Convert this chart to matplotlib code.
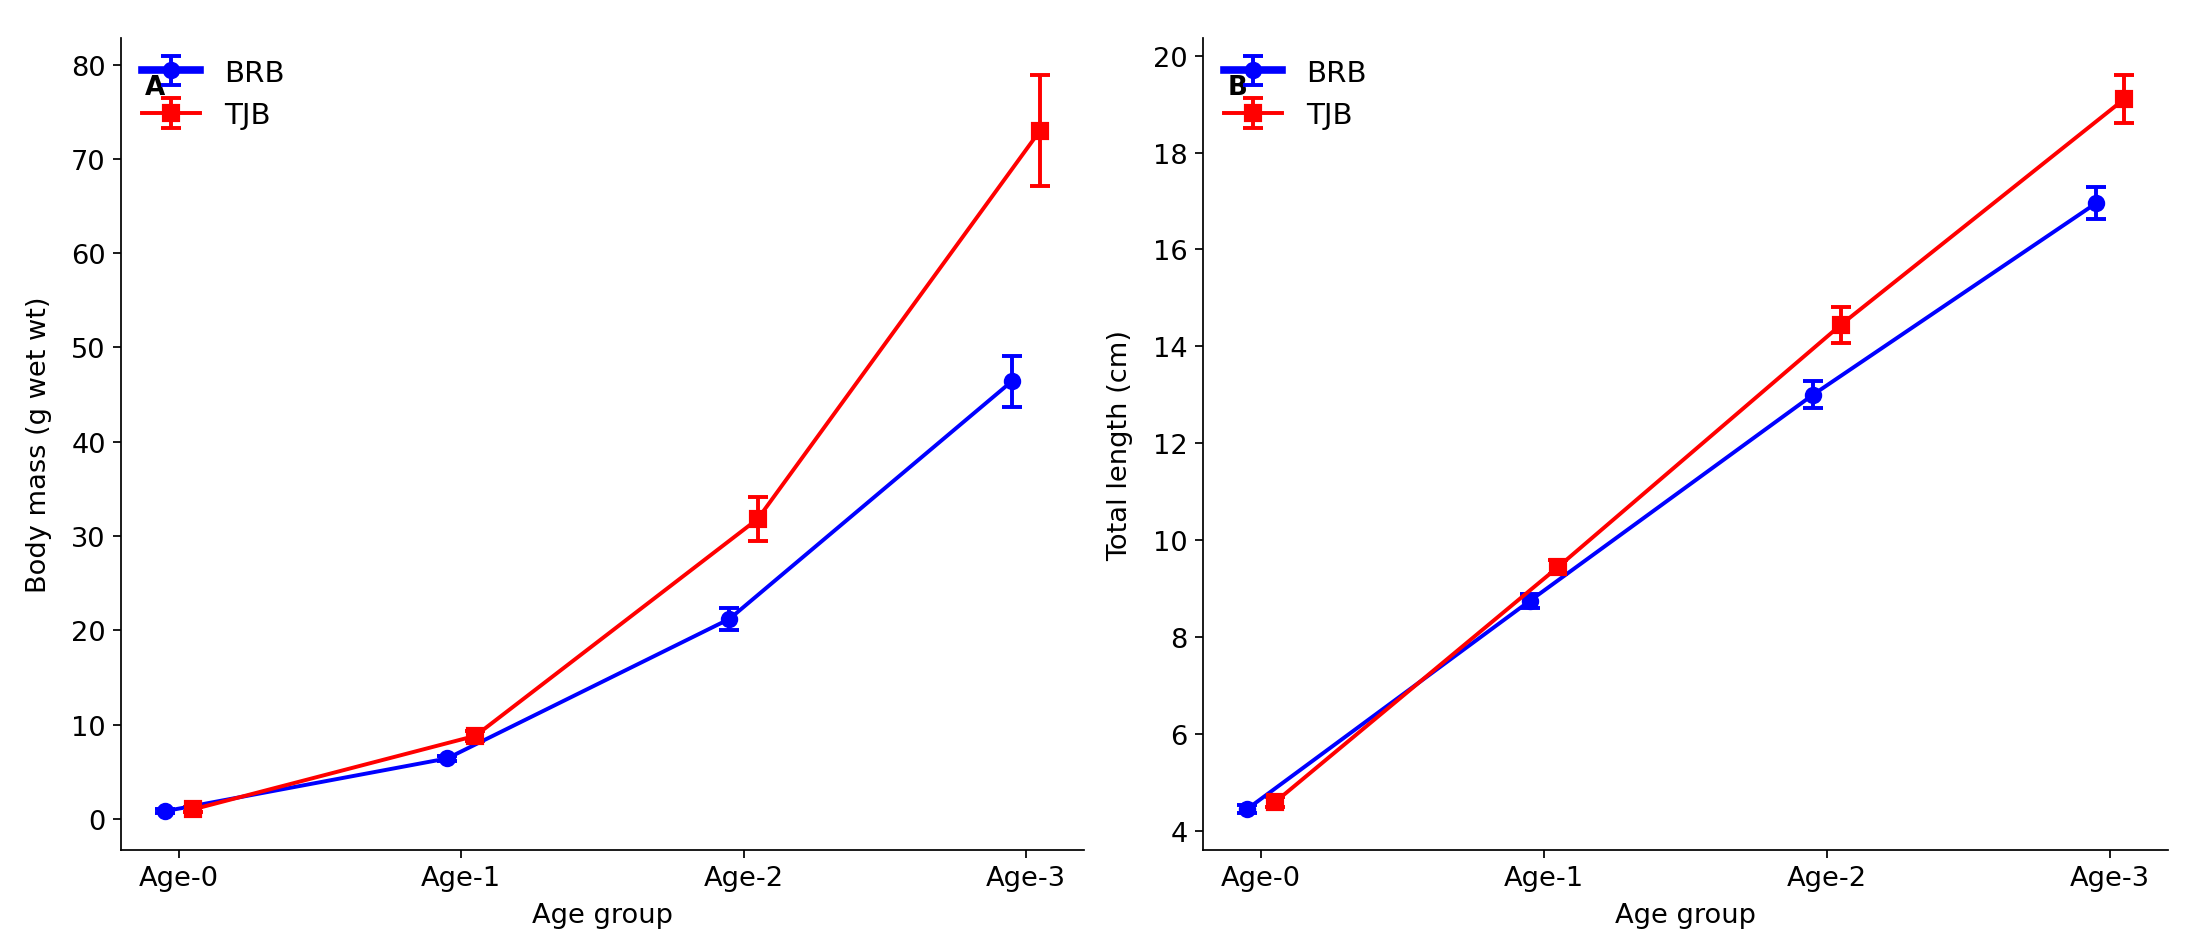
import matplotlib
matplotlib.use('Agg')
import matplotlib.pyplot as plt
from matplotlib.lines import Line2D
import numpy as np

# age classes and group means / SE
ages = ['Age-0', 'Age-1', 'Age-2', 'Age-3']

brb_mass = [0.8, 6.4, 21.2, 46.4]
brb_mass_se = [0.2, 0.3, 1.2, 2.7]
tjb_mass = [1.0, 8.8, 31.8, 73.0]
tjb_mass_se = [0.3, 0.5, 2.3, 5.9]

brb_len = [4.45, 8.75, 13.0, 16.95]
brb_len_se = [0.08, 0.15, 0.28, 0.33]
tjb_len = [4.6, 9.45, 14.45, 19.1]
tjb_len_se = [0.1, 0.15, 0.37, 0.5]

plt.rcParams['font.size'] = 12.5

fig = plt.figure(figsize=(14, 6.084), dpi=156.64)
ax1 = fig.add_axes([0.0552, 0.107, 0.439, 0.852])
ax2 = fig.add_axes([0.5486, 0.107, 0.44, 0.852])

x = np.arange(len(ages))
off = 0.05


def panel(ax, brb, brb_se, tjb, tjb_se, ylabel, letter):
    ax.errorbar(x - off, brb, yerr=brb_se, color='blue', marker='o', markersize=7,
                linewidth=1.8, capsize=4.5, capthick=1.8, elinewidth=1.8, label='BRB')
    ax.errorbar(x + off, tjb, yerr=tjb_se, color='red', marker='s', markersize=7.5,
                linewidth=1.8, capsize=4.5, capthick=1.8, elinewidth=1.8, label='TJB')
    ax.set_xticks(x)
    ax.set_xticklabels(ages)
    ax.set_xlabel('Age group', labelpad=5)
    ax.set_ylabel(ylabel, labelpad=9)
    ax.spines['top'].set_visible(False)
    ax.spines['right'].set_visible(False)
    ax.text(0.025, 0.94, letter, transform=ax.transAxes, fontweight='bold',
            fontsize=12, va='center', ha='left')
    leg = ax.legend(loc='upper left', frameon=False, fontsize=13.5, borderaxespad=0.3)
    # the BRB handle line is drawn heavier in the original
    for ln in leg.findobj(Line2D):
        if ln.get_color() == 'blue' and str(ln.get_marker()).lower() in ('none', ''):
            ln.set_linewidth(3.5)


panel(ax1, brb_mass, brb_mass_se, tjb_mass, tjb_mass_se, 'Body mass (g wet wt)', 'A')
panel(ax2, brb_len, brb_len_se, tjb_len, tjb_len_se, 'Total length (cm)', 'B')

fig.savefig('out.png', dpi=156.64)
